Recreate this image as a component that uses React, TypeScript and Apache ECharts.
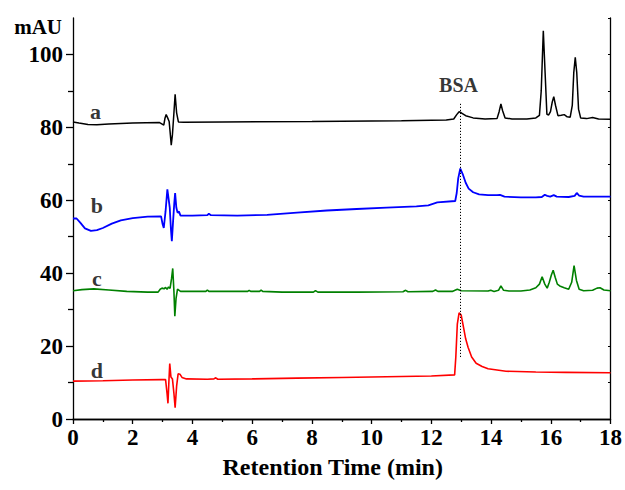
import React, { useEffect, useRef } from "react";
import * as echarts from "echarts";

// Retention time (min) / absorbance (mAU) pairs
const traceA: [number, number][] = [
  [0, 81.5], [0.2, 81.2], [0.5, 80.8], [0.8, 80.7], [1.2, 80.9], [2.0, 81.2], [2.9, 81.3],
  [3.0, 80.8], [3.04, 80.6], [3.08, 82.5], [3.12, 83.5], [3.17, 82.6], [3.22, 81.6], [3.26, 78],
  [3.29, 75.1], [3.33, 78], [3.38, 84], [3.42, 89.1], [3.47, 84], [3.53, 81.5], [3.7, 81.4],
  [5, 81.5], [8, 81.6], [11, 81.8], [12.5, 82.0], [12.75, 82.3], [12.85, 83.5], [12.93, 84.3],
  [13.0, 84.0], [13.15, 83.2], [13.4, 82.6], [13.8, 82.3], [14.2, 82.4], [14.27, 84.3],
  [14.33, 86.4], [14.39, 84.5], [14.47, 82.6], [14.7, 82.3], [15.2, 82.3], [15.5, 82.6],
  [15.62, 83.3], [15.68, 90], [15.75, 106.5], [15.81, 95], [15.87, 83.6], [15.93, 83.4],
  [15.99, 84.3], [16.05, 87], [16.1, 88.4], [16.16, 86], [16.24, 83.2], [16.35, 83.3],
  [16.45, 83.5], [16.55, 82.9], [16.65, 82.8], [16.72, 86], [16.77, 95], [16.82, 99.2],
  [16.87, 95], [16.93, 85], [17.0, 82.6], [17.2, 82.4], [17.4, 82.7], [17.6, 82.3], [18, 82.2],
];

const traceB: [number, number][] = [
  [0, 55.0], [0.12, 55.0], [0.25, 53.8], [0.4, 52.3], [0.6, 51.6], [0.8, 51.8], [1.0, 52.4],
  [1.3, 53.6], [1.6, 54.5], [2.0, 55.1], [2.5, 55.5], [2.95, 55.6], [3.0, 53.5], [3.04, 52.4],
  [3.1, 57], [3.16, 63.0], [3.2, 60.5], [3.24, 58], [3.28, 52], [3.31, 48.8], [3.35, 54],
  [3.39, 59], [3.42, 62.0], [3.46, 58], [3.5, 56.6], [3.55, 56.9], [3.6, 55.8], [4.0, 55.8],
  [4.5, 55.9], [4.55, 56.3], [4.62, 55.9], [5.5, 55.8], [6.5, 56.0], [7.5, 56.6], [8.5, 57.2],
  [9.5, 57.6], [10.5, 58.0], [11.5, 58.3], [11.9, 58.6], [12.2, 59.4], [12.8, 59.8],
  [12.85, 62], [12.9, 66], [12.97, 68.7], [13.05, 67.2], [13.15, 64.8], [13.25, 63.2],
  [13.4, 62.2], [13.6, 61.6], [13.9, 61.4], [14.2, 61.4], [14.3, 61.5], [14.45, 61.0],
  [15.0, 60.8], [15.5, 60.8], [15.7, 60.9], [15.8, 61.5], [15.88, 61.2], [15.98, 61.0],
  [16.1, 61.4], [16.2, 61.0], [16.6, 60.9], [16.8, 61.2], [16.87, 62.0], [16.95, 61.3],
  [17.1, 61.0], [18, 61.0],
];

const traceC: [number, number][] = [
  [0, 35.2], [0.3, 35.5], [0.7, 35.7], [1.2, 35.4], [1.8, 35.0], [2.5, 34.8], [2.85, 34.8],
  [2.92, 35.6], [2.98, 35.9], [3.05, 35.7], [3.1, 36.1], [3.15, 35.6], [3.2, 36.2], [3.25, 35.8],
  [3.3, 38.5], [3.34, 41.3], [3.38, 35], [3.41, 28.2], [3.45, 33], [3.5, 35.6], [3.6, 35.0],
  [4.0, 35.0], [4.45, 35.0], [4.5, 35.4], [4.55, 35.0], [5.2, 35.0], [5.85, 35.0], [5.9, 35.3],
  [5.95, 35.0], [6.25, 35.0], [6.3, 35.4], [6.35, 35.0], [7.0, 34.8], [8.05, 34.8], [8.12, 35.2],
  [8.2, 34.8], [9.5, 34.8], [11.05, 34.9], [11.14, 35.3], [11.22, 34.9], [12.05, 35.0],
  [12.14, 35.4], [12.22, 35.0], [12.7, 35.0], [12.87, 35.6], [13.0, 35.2], [13.9, 35.1],
  [13.99, 35.3], [14.1, 35.0], [14.25, 35.3], [14.33, 36.5], [14.42, 35.3], [14.6, 35.1],
  [15.0, 35.1], [15.3, 35.4], [15.5, 36.0], [15.62, 37.0], [15.71, 39.0], [15.8, 37.0],
  [15.88, 35.9], [15.95, 37.5], [16.02, 39.5], [16.08, 40.8], [16.15, 38.8], [16.22, 37.0],
  [16.3, 36.5], [16.45, 36.0], [16.6, 35.6], [16.7, 37.5], [16.78, 42.1], [16.86, 38],
  [16.95, 35.6], [17.1, 35.2], [17.4, 35.3], [17.55, 35.9], [17.65, 36.0], [17.78, 35.4],
  [18, 35.2],
];

const traceD: [number, number][] = [
  [0, 10.4], [1.0, 10.5], [2.0, 10.7], [2.95, 10.8], [3.1, 10.8], [3.15, 7], [3.18, 4.3],
  [3.21, 10], [3.24, 15.2], [3.28, 11.5], [3.33, 11.0], [3.38, 7], [3.42, 3.1], [3.47, 9],
  [3.52, 12.4], [3.58, 12.3], [3.65, 11.4], [3.8, 11.0], [4.5, 10.9], [4.72, 11.0],
  [4.78, 11.3], [4.85, 10.9], [6, 11.0], [7.5, 11.2], [9, 11.4], [10.5, 11.6], [12, 11.8],
  [12.78, 12.1], [12.82, 17], [12.87, 26], [12.93, 29.1], [13.0, 28.5], [13.07, 25.5],
  [13.15, 22], [13.23, 19.7], [13.35, 17], [13.5, 15.3], [13.7, 14.4], [13.9, 13.8],
  [14.5, 13.1], [15.5, 12.9], [16.5, 12.8], [18, 12.7],
];

const traceNames = ["a", "b", "c", "d"];
const traceColors = ["#000000", "#0000ff", "#008000", "#ff0000"];
const traceWidths = [1.5, 1.8, 1.6, 1.6];
const traces = [traceA, traceB, traceC, traceD];

// label anchor points (time, mAU) for the trace letters
const traceLabelPos: [number, number][] = [[0.75, 84.4], [0.8, 58.7], [0.8, 38.5], [0.8, 13.3]];

// BSA annotation
const bsaTime = 12.98;
const bsaLineRange: [number, number] = [17, 86.6];
const bsaLabelPos: [number, number] = [12.91, 91.6];

const xTicks = { min: 0, max: 18, interval: 2 };
const yTicks = { min: 0, max: 110, major: [0, 20, 40, 60, 80, 100], minor: [10, 30, 50, 70, 90] };

const FONT = "Liberation Serif";

export default function App() {
  const ref = useRef<HTMLDivElement>(null);

  useEffect(() => {
    if (!ref.current) return;
    const chart = echarts.init(ref.current, null, { renderer: "svg" });
    const axisLine = { show: true, lineStyle: { color: "#000", width: 1.3 } };
    const labelStyle = { fontFamily: FONT, fontWeight: "bold", fontSize: 23, color: "#000" };

    const lineSeries = traces.map((d, i) => ({
      name: traceNames[i],
      type: "line",
      data: d,
      xAxisIndex: 0,
      yAxisIndex: 0,
      showSymbol: false,
      symbol: "none",
      lineStyle: { color: traceColors[i], width: traceWidths[i] },
      itemStyle: { color: traceColors[i] },
      silent: true,
      z: 3,
      ...(i === 3
        ? {
            markLine: {
              silent: true,
              symbol: ["none", "none"],
              label: { show: false },
              lineStyle: { color: "#000", width: 1, type: [1.2, 1.8] },
              data: [[{ coord: [bsaTime, bsaLineRange[0]] }, { coord: [bsaTime, bsaLineRange[1]] }]],
            },
          }
        : {}),
    }));

    const option = {
      animation: false,
      textStyle: { fontFamily: FONT },
      grid: { left: 73, right: 12.5, top: 18, bottom: 71, containLabel: false },
      xAxis: [
        {
          type: "value",
          position: "bottom",
          min: xTicks.min,
          max: xTicks.max,
          interval: xTicks.interval,
          axisLine,
          axisTick: { show: true, inside: false, length: 5, lineStyle: { color: "#000", width: 1.3 } },
          minorTick: { show: true, splitNumber: 2, length: 3, lineStyle: { color: "#000", width: 1.3 } },
          splitLine: { show: false },
          axisLabel: { ...labelStyle, margin: 7 },
          name: "Retention Time (min)",
          nameLocation: "middle",
          nameGap: 36,
          nameTextStyle: { fontFamily: FONT, fontWeight: "bold", fontSize: 24, color: "#000", padding: [0, 18, 0, 0] },
        },
        {
          type: "value",
          position: "top",
          min: xTicks.min,
          max: xTicks.max,
          interval: 1,
          axisLine,
          axisTick: { show: true, inside: true, length: 2, lineStyle: { color: "#000", width: 1 } },
          axisLabel: { show: false },
          splitLine: { show: false },
        },
      ],
      yAxis: [
        {
          type: "value",
          position: "left",
          min: yTicks.min,
          max: yTicks.max,
          interval: 20,
          axisLine,
          axisTick: { show: true, inside: false, length: 7, customValues: yTicks.major, lineStyle: { color: "#000", width: 1.3 } },
          axisLabel: { ...labelStyle, margin: 10, customValues: yTicks.major },
          splitLine: { show: false },
        },
        {
          type: "value",
          position: "left",
          min: yTicks.min,
          max: yTicks.max,
          interval: 10,
          axisLine: { show: false },
          axisTick: { show: true, inside: false, length: 5, customValues: yTicks.minor, lineStyle: { color: "#000", width: 1.3 } },
          axisLabel: { show: false },
          splitLine: { show: false },
        },
        {
          type: "value",
          position: "right",
          min: yTicks.min,
          max: yTicks.max,
          interval: 10,
          axisLine,
          axisTick: { show: true, inside: true, length: 2.5, lineStyle: { color: "#000", width: 1 } },
          axisLabel: { show: false },
          splitLine: { show: false },
        },
      ],
      series: [
        ...lineSeries,
        {
          type: "scatter",
          xAxisIndex: 0,
          yAxisIndex: 0,
          silent: true,
          symbolSize: 0,
          z: 5,
          data: traceLabelPos.map((p, i) => ({
            value: p,
            label: { show: true, position: "inside", formatter: traceNames[i] },
          })),
          label: { fontFamily: FONT, fontWeight: "bold", fontSize: 22, color: "#000" },
        },
        {
          type: "scatter",
          xAxisIndex: 0,
          yAxisIndex: 0,
          silent: true,
          symbolSize: 0,
          z: 5,
          data: [{ value: bsaLabelPos, label: { show: true, position: "inside", formatter: "BSA" } }],
          label: { fontFamily: FONT, fontWeight: "bold", fontSize: 20, color: "#000" },
        },
      ],
      graphic: [
        {
          type: "text",
          right: 625 - 62,
          top: 16,
          style: { text: "mAU", fontFamily: FONT, fontWeight: "bold", fontSize: 21, fill: "#000" },
        },
      ],
    };
    chart.setOption(option as any);
    return () => chart.dispose();
  }, []);

  return (
    <div
      ref={ref}
      style={{ position: "fixed", left: 0, top: 0, width: 625, height: 490, background: "#fff" }}
    />
  );
}
